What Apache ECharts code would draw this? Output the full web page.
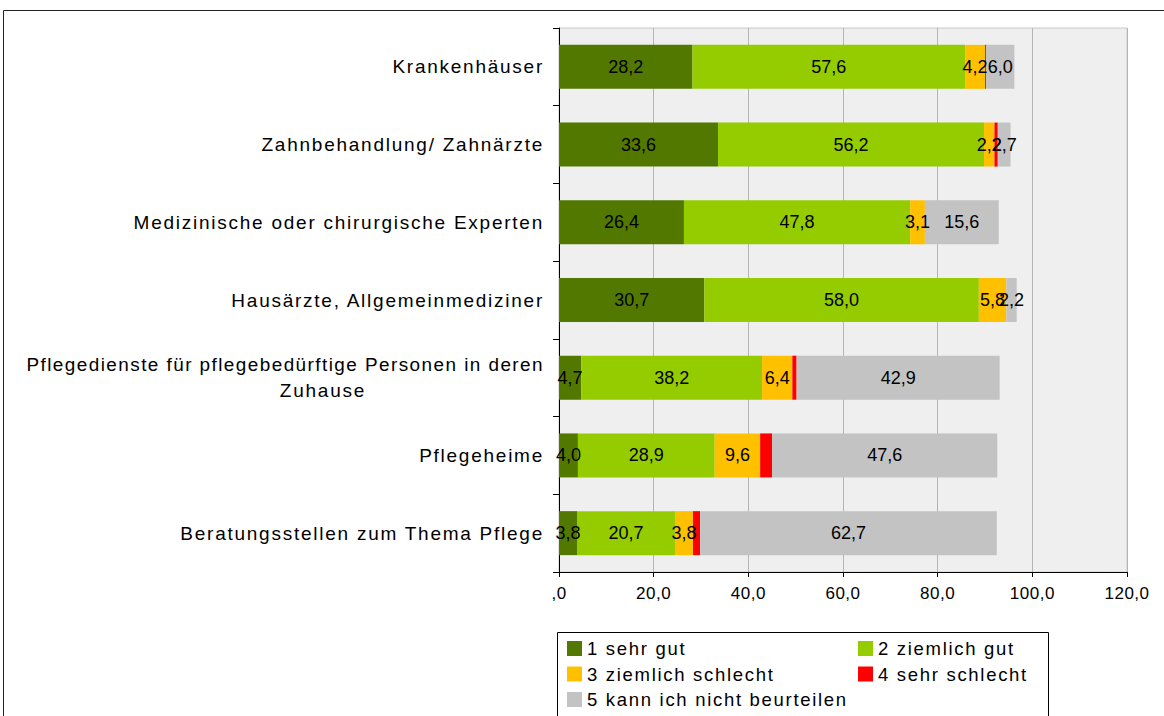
<!DOCTYPE html>
<html>
<head>
<meta charset="utf-8">
<script src="https://cdn.jsdelivr.net/npm/echarts@6/dist/echarts.min.js"></script>
<style>
html,body{margin:0;padding:0;background:#fff;}
#chart{width:1164px;height:716px;}
#chart text[style*="19px"]{letter-spacing:1.75px;}
#chart text[style*="18.9px"]{letter-spacing:1.45px;}
#chart text[style*="18.5px"]{letter-spacing:1.7px;}
#chart text[style*="17px"]{letter-spacing:0.5px;}
</style>
</head>
<body>
<div id="chart"></div>
<script>
var categories = ['Krankenhäuser', 'Zahnbehandlung/ Zahnärzte', 'Medizinische oder chirurgische Experten',
	'Hausärzte, Allgemeinmediziner', 'Pflegedienste für pflegebedürftige Personen in deren Zuhause',
	'Pflegeheime', 'Beratungsstellen zum Thema Pflege'];
var seriesNames = ['1 sehr gut', '2 ziemlich gut', '3 ziemlich schlecht', '4 sehr schlecht', '5 kann ich nicht beurteilen'];
var sehrGut = [28.2, 33.6, 26.4, 30.7, 4.7, 4.0, 3.8];
var ziemlichGut = [57.6, 56.2, 47.8, 58.0, 38.2, 28.9, 20.7];
var ziemlichSchlecht = [4.2, 2.2, 3.1, 5.8, 6.4, 9.6, 3.8];
var sehrSchlecht = [0.2, 0.7, 0, 0, 0.9, 2.5, 1.5];
var nichtBeurteilen = [6.0, 2.7, 15.6, 2.2, 42.9, 47.6, 62.7];
var xTicks = [0, 20, 40, 60, 80, 100, 120];

var colors = ['#527800', '#95cc00', '#ffc000', '#ff0000', '#c3c3c3'];
var font = 'Liberation Sans, Arial, sans-serif';

function fmt(v){
	return v === 0 ? ',0' : v.toFixed(1).replace('.', ',');
}

function makeSeries(name, data, i, showLabel){
	return {
		name: name,
		type: 'bar',
		stack: 'total',
		barWidth: 44,
		data: data,
		itemStyle: {color: colors[i]},
		label: {
			show: showLabel,
			position: 'inside',
			color: '#000',
			fontSize: 18,
			fontFamily: font,
			formatter: function(p){ return fmt(p.value); }
		},
		emphasis: {disabled: true}
	};
}

function makeLegend(names, left){
	return {
		data: names,
		orient: 'vertical', left: left, top: 639, bottom: 0, padding: 0,
		itemWidth: 15, itemHeight: 15, itemGap: 6.5, icon: 'rect',
		textStyle: {fontSize: 18.5, fontFamily: font, color: '#000'}
	};
}

var chart = echarts.init(document.getElementById('chart'), null, {renderer: 'svg'});
chart.setOption({
	animation: false,
	backgroundColor: '#fff',
	graphic: [
		{type: 'rect', shape: {x: 3.5, y: 10.5, width: 1300, height: 900}, style: {fill: 'none', stroke: '#222', lineWidth: 1}, z: -10},
		{type: 'rect', shape: {x: 557.5, y: 632.5, width: 491, height: 120}, style: {fill: '#fff', stroke: '#000', lineWidth: 1}, z: -5}
	],
	grid: {
		left: 559, right: 37, top: 28, bottom: 144,
		show: true, backgroundColor: '#efefef', borderColor: '#c8c8c8', borderWidth: 1
	},
	legend: [
		makeLegend([seriesNames[0], seriesNames[2], seriesNames[4]], 567),
		makeLegend([seriesNames[1], seriesNames[3]], 858)
	],
	xAxis: {
		type: 'value', min: 0, max: 120, interval: 20,
		axisLine: {show: true, lineStyle: {color: '#000'}},
		axisTick: {show: true, length: 5, lineStyle: {color: '#000'}},
		splitLine: {show: true, lineStyle: {color: '#b4b4b4'}},
		axisLabel: {
			margin: 13, color: '#000', fontSize: 17, fontFamily: font,
			customValues: xTicks,
			formatter: function(v){ return fmt(v); }
		}
	},
	yAxis: {
		type: 'category', inverse: true, data: categories,
		axisLine: {show: true, lineStyle: {color: '#000'}},
		axisTick: {show: true, length: 6, lineStyle: {color: '#000'}},
		axisLabel: {
			margin: 15, color: '#000', fontSize: 19, fontFamily: font, align: 'right',
			formatter: function(v){
				if (v.indexOf('Zuhause') > -1) {
					return '{a|Pflegedienste für pflegebedürftige Personen in deren}\n{b|Zuhause}';
				}
				return v;
			},
			rich: {
				a: {fontSize: 18.9, fontFamily: font, color: '#000', align: 'right', lineHeight: 26},
				b: {fontSize: 19, fontFamily: font, color: '#000', align: 'center', lineHeight: 26}
			}
		}
	},
	series: [
		makeSeries(seriesNames[0], sehrGut, 0, true),
		makeSeries(seriesNames[1], ziemlichGut, 1, true),
		makeSeries(seriesNames[2], ziemlichSchlecht, 2, true),
		makeSeries(seriesNames[3], sehrSchlecht, 3, false),
		makeSeries(seriesNames[4], nichtBeurteilen, 4, true)
	]
});
</script>
</body>
</html>
